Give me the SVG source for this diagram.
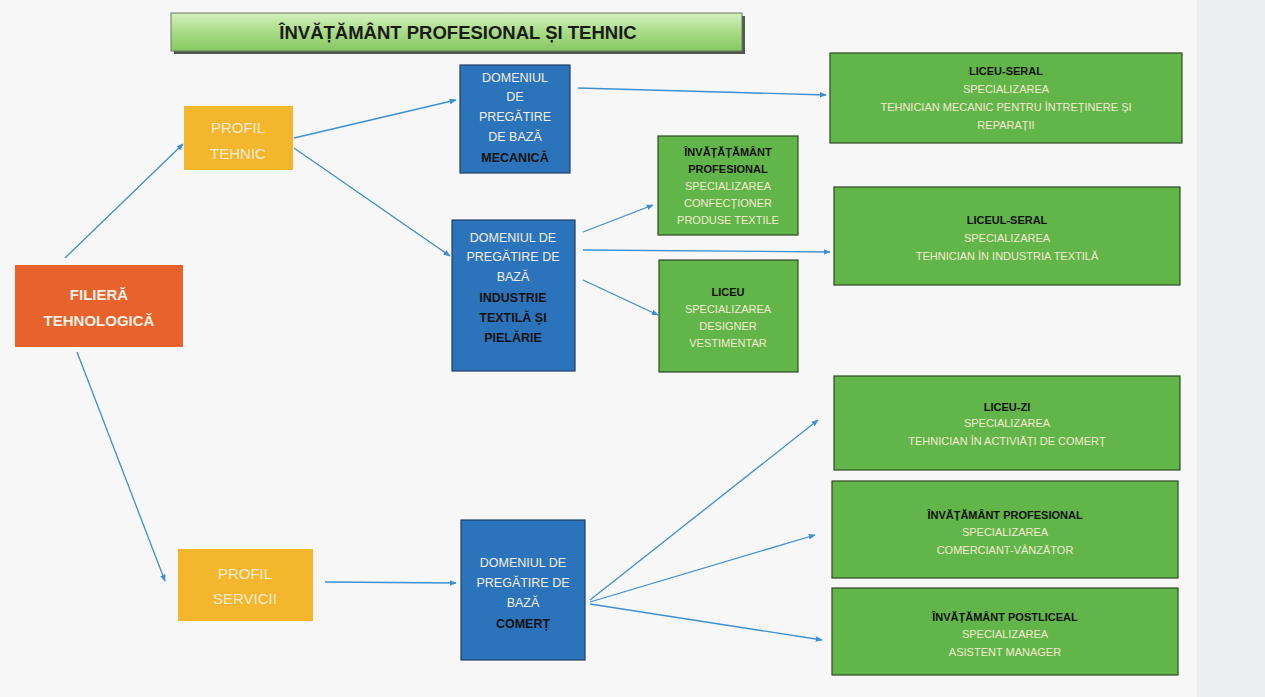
<svg xmlns="http://www.w3.org/2000/svg" width="1265" height="697" viewBox="0 0 1265 697">
<defs>
<linearGradient id="tg" x1="0" y1="0" x2="0" y2="1">
<stop offset="0" stop-color="#d6f0c0"/><stop offset="0.5" stop-color="#a9dc86"/><stop offset="1" stop-color="#86c862"/>
</linearGradient>
<marker id="ah" viewBox="0 0 10 10" refX="9" refY="5" markerWidth="7" markerHeight="7" orient="auto" markerUnits="userSpaceOnUse">
<path d="M0,1 L10,5 L0,9 z" fill="#3d8fd0"/>
</marker>
<style>
text{font-family:"Liberation Sans","Noto Sans",Arial,sans-serif;text-anchor:middle}
.orange{fill:#e8632b}
.yellow{fill:#f4b62c}
.blue{fill:#2b74bb;stroke:#1e3f66;stroke-width:1.2}
.green{fill:#62b548;stroke:#2d4a25;stroke-width:1.2}
.lt{fill:#f3ecd2}
.wt{fill:#f4efe4}
.bk{fill:#111;font-weight:bold}
.conn line{stroke:#3d8fd0;stroke-width:1.3;marker-end:url(#ah)}
</style>
</defs>
<rect x="0" y="0" width="1265" height="697" fill="#f7f7f8"/>
<rect x="1197" y="0" width="68" height="697" fill="#eceef2"/>

<g id="title">
<rect x="174" y="16" width="571" height="38" fill="#4f5a48"/>
<rect x="171" y="13" width="571" height="38" fill="url(#tg)" stroke="#6a7a60" stroke-width="1"/>
<text x="458" y="39" style="font-size:18.5px;font-weight:bold;fill:#1a1a1a">ÎNVĂȚĂMÂNT PROFESIONAL ȘI TEHNIC</text>
</g>

<g id="filiera">
<rect x="15" y="265" width="168" height="82" class="orange"/>
<text x="99" y="300" class="wt" style="font-size:15px;font-weight:bold">FILIERĂ</text>
<text x="99" y="326" class="wt" style="font-size:15px;font-weight:bold">TEHNOLOGICĂ</text>
</g>

<g id="profil-tehnic">
<rect x="184" y="106" width="109" height="64" class="yellow"/>
<text x="238" y="133" class="lt" style="font-size:15px">PROFIL</text>
<text x="238" y="159" class="lt" style="font-size:15px">TEHNIC</text>
</g>

<g id="profil-servicii">
<rect x="178" y="549" width="135" height="72" class="yellow"/>
<text x="245" y="579" class="lt" style="font-size:15px">PROFIL</text>
<text x="245" y="604" class="lt" style="font-size:15px">SERVICII</text>
</g>

<g id="dom-mecanica">
<rect x="460" y="65" width="110" height="108" class="blue"/>
<g style="font-size:12.5px">
<text x="515" y="82" class="wt">DOMENIUL</text>
<text x="515" y="101" class="wt">DE</text>
<text x="515" y="121" class="wt">PREGĂTIRE</text>
<text x="515" y="141" class="wt">DE BAZĂ</text>
<text x="515" y="162" class="bk">MECANICĂ</text>
</g>
</g>

<g id="dom-textila">
<rect x="452" y="220" width="123" height="151" class="blue"/>
<g style="font-size:12.5px">
<text x="513" y="242" class="wt">DOMENIUL DE</text>
<text x="513" y="261" class="wt">PREGĂTIRE DE</text>
<text x="513" y="281" class="wt">BAZĂ</text>
<text x="513" y="302" class="bk">INDUSTRIE</text>
<text x="513" y="322" class="bk">TEXTILĂ ȘI</text>
<text x="513" y="342" class="bk">PIELĂRIE</text>
</g>
</g>

<g id="dom-comert">
<rect x="461" y="520" width="124" height="140" class="blue"/>
<g style="font-size:12.5px">
<text x="523" y="567" class="wt">DOMENIUL DE</text>
<text x="523" y="587" class="wt">PREGĂTIRE DE</text>
<text x="523" y="607" class="wt">BAZĂ</text>
<text x="523" y="628" class="bk">COMERȚ</text>
</g>
</g>

<g id="inv-prof-textil">
<rect x="658" y="136" width="140" height="99" class="green"/>
<g style="font-size:11px">
<text x="728" y="156" class="bk">ÎNVĂȚĂȚĂMÂNT</text>
<text x="728" y="173" class="bk">PROFESIONAL</text>
<text x="728" y="190" class="lt">SPECIALIZAREA</text>
<text x="728" y="207" class="lt">CONFECȚIONER</text>
<text x="728" y="224" class="lt">PRODUSE TEXTILE</text>
</g>
</g>

<g id="liceu-designer">
<rect x="659" y="260" width="139" height="112" class="green"/>
<g style="font-size:11px">
<text x="728" y="296" class="bk">LICEU</text>
<text x="728" y="313" class="lt">SPECIALIZAREA</text>
<text x="728" y="330" class="lt">DESIGNER</text>
<text x="728" y="347" class="lt">VESTIMENTAR</text>
</g>
</g>

<g id="liceu-seral-mecanic">
<rect x="830" y="53" width="352" height="90" class="green"/>
<g style="font-size:11px">
<text x="1006" y="75" class="bk">LICEU-SERAL</text>
<text x="1006" y="93" class="lt">SPECIALIZAREA</text>
<text x="1006" y="111" class="lt">TEHNICIAN MECANIC PENTRU ÎNTREȚINERE ȘI</text>
<text x="1006" y="129" class="lt">REPARAȚII</text>
</g>
</g>

<g id="liceul-seral-textil">
<rect x="834" y="187" width="346" height="98" class="green"/>
<g style="font-size:11px">
<text x="1007" y="224" class="bk">LICEUL-SERAL</text>
<text x="1007" y="242" class="lt">SPECIALIZAREA</text>
<text x="1007" y="260" class="lt">TEHNICIAN ÎN INDUSTRIA TEXTILĂ</text>
</g>
</g>

<g id="liceu-zi">
<rect x="834" y="376" width="346" height="94" class="green"/>
<g style="font-size:11px">
<text x="1007" y="411" class="bk">LICEU-ZI</text>
<text x="1007" y="427" class="lt">SPECIALIZAREA</text>
<text x="1007" y="445" class="lt">TEHNICIAN ÎN ACTIVIĂȚI DE COMERȚ</text>
</g>
</g>

<g id="inv-prof-comert">
<rect x="832" y="481" width="346" height="97" class="green"/>
<g style="font-size:11px">
<text x="1005" y="519" class="bk">ÎNVĂȚĂMÂNT PROFESIONAL</text>
<text x="1005" y="536" class="lt">SPECIALIZAREA</text>
<text x="1005" y="554" class="lt">COMERCIANT-VÂNZĂTOR</text>
</g>
</g>

<g id="inv-postliceal">
<rect x="832" y="588" width="346" height="87" class="green"/>
<g style="font-size:11px">
<text x="1005" y="621" class="bk">ÎNVĂȚĂMÂNT POSTLICEAL</text>
<text x="1005" y="638" class="lt">SPECIALIZAREA</text>
<text x="1005" y="656" class="lt">ASISTENT MANAGER</text>
</g>
</g>

<g id="connectors" class="conn">
<line x1="65" y1="258" x2="183" y2="144"/>
<line x1="77" y1="352" x2="165" y2="581"/>
<line x1="294" y1="138" x2="456" y2="100"/>
<line x1="294" y1="148" x2="450" y2="256"/>
<line x1="578" y1="88" x2="826" y2="95"/>
<line x1="583" y1="232" x2="653" y2="205"/>
<line x1="583" y1="250" x2="830" y2="252"/>
<line x1="583" y1="280" x2="658" y2="315"/>
<line x1="325" y1="582" x2="456" y2="583"/>
<line x1="590" y1="600" x2="818" y2="420"/>
<line x1="590" y1="602" x2="815" y2="535"/>
<line x1="590" y1="604" x2="822" y2="640"/>
</g>
</svg>
